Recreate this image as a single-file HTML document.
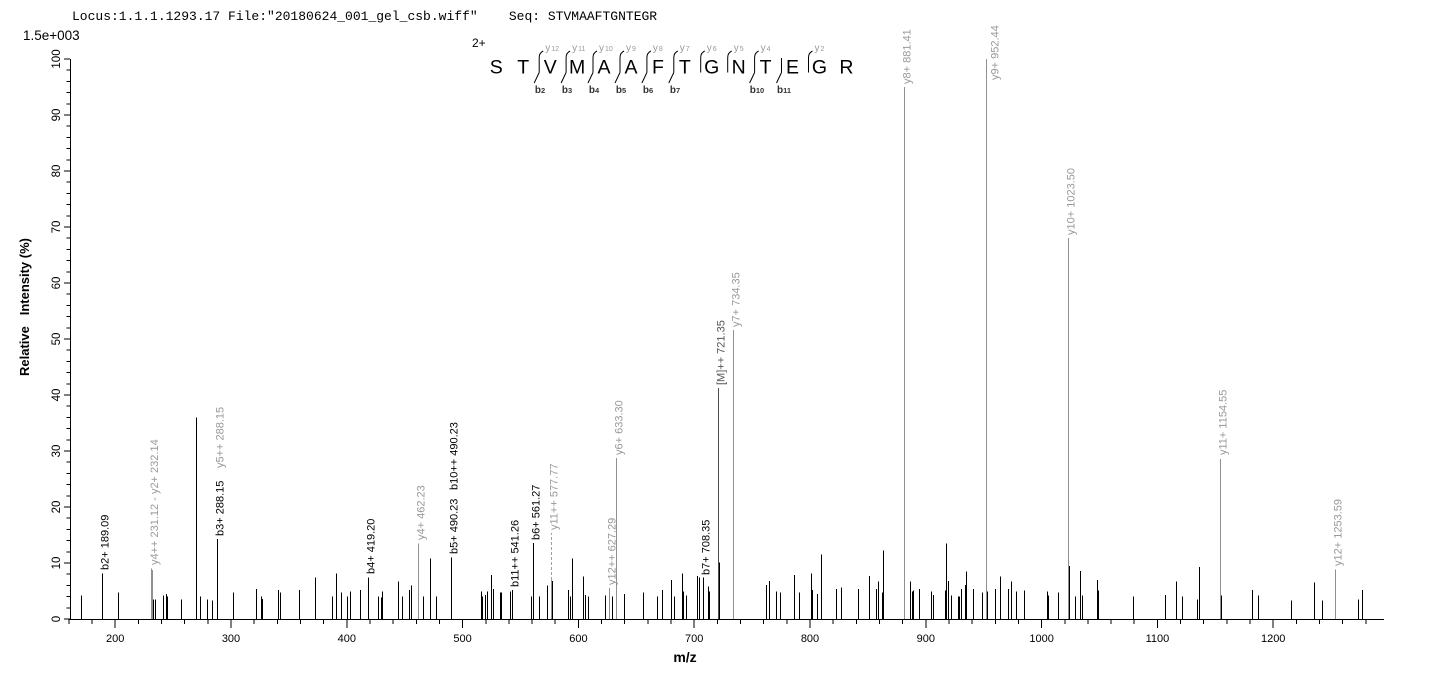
<!DOCTYPE html>
<html><head><meta charset="utf-8"><style>
html,body{margin:0;padding:0;background:#fff;}
svg{display:block;}
text{font-family:"Liberation Sans",Arial,sans-serif;}
</style></head><body>
<svg width="1436" height="679" viewBox="0 0 1436 679" xmlns="http://www.w3.org/2000/svg">
<rect width="1436" height="679" fill="#fff"/>
<!-- header -->
<text x="72" y="20" font-size="13" fill="#000" style="white-space:pre;font-family:'Liberation Mono','DejaVu Sans Mono',monospace">Locus:1.1.1.1293.17 File:"20180624_001_gel_csb.wiff"    Seq: STVMAAFTGNTEGR</text>
<text x="23" y="40" font-size="13.5" fill="#000">1.5e+003</text>

<!-- sequence annotation -->
<text x="472" y="47" font-size="12" fill="#000">2+</text>
<g font-size="19.5" fill="#000" text-anchor="middle">
<text x="496.3" y="73.5">S</text><text x="523.2" y="73.5">T</text><text x="550.2" y="73.5">V</text><text x="577.1" y="73.5">M</text><text x="604.0" y="73.5">A</text><text x="631.0" y="73.5">A</text><text x="657.9" y="73.5">F</text><text x="684.8" y="73.5">T</text><text x="711.7" y="73.5">G</text><text x="738.7" y="73.5">N</text><text x="765.6" y="73.5">T</text><text x="792.5" y="73.5">E</text><text x="819.5" y="73.5">G</text><text x="846.4" y="73.5">R</text>
</g>
<g stroke="#000" stroke-width="1" fill="none">
<path d="M539.2 72.5V57.5Q539.2 53 543.2 51M539.2 72.5L534.2 83"/>
<path d="M566.1 72.5V57.5Q566.1 53 570.1 51M566.1 72.5L561.1 83"/>
<path d="M593 72.5V57.5Q593 53 597 51M593 72.5L588 83"/>
<path d="M620 72.5V57.5Q620 53 624 51M620 72.5L615 83"/>
<path d="M646.9 72.5V57.5Q646.9 53 650.9 51M646.9 72.5L641.9 83"/>
<path d="M673.8 72.5V57.5Q673.8 53 677.8 51M673.8 72.5L668.8 83"/>
<path d="M700.7 72.5V57.5Q700.7 53 704.7 51"/>
<path d="M727.7 72.5V57.5Q727.7 53 731.7 51"/>
<path d="M754.6 72.5V57.5Q754.6 53 758.6 51M754.6 72.5L749.6 83"/>
<path d="M781.5 72.5V58M781.5 72.5L776.5 83"/>
<path d="M808.5 72.5V57.5Q808.5 53 812.5 51"/>
</g>
<g fill="#999" font-size="10">
<text x="545.2" y="51">y<tspan font-size="7" dx="1">12</tspan></text>
<text x="572.1" y="51">y<tspan font-size="7" dx="1">11</tspan></text>
<text x="599" y="51">y<tspan font-size="7" dx="1">10</tspan></text>
<text x="626" y="51">y<tspan font-size="7" dx="1">9</tspan></text>
<text x="652.9" y="51">y<tspan font-size="7" dx="1">8</tspan></text>
<text x="679.8" y="51">y<tspan font-size="7" dx="1">7</tspan></text>
<text x="706.7" y="51">y<tspan font-size="7" dx="1">6</tspan></text>
<text x="733.7" y="51">y<tspan font-size="7" dx="1">5</tspan></text>
<text x="760.6" y="51">y<tspan font-size="7" dx="1">4</tspan></text>
<text x="814.5" y="51">y<tspan font-size="7" dx="1">2</tspan></text>
</g>
<g fill="#333" font-size="10" font-weight="bold" text-anchor="middle">
<text x="540" y="93">b<tspan font-size="7.5">2</tspan></text>
<text x="567" y="93">b<tspan font-size="7.5">3</tspan></text>
<text x="594" y="93">b<tspan font-size="7.5">4</tspan></text>
<text x="621" y="93">b<tspan font-size="7.5">5</tspan></text>
<text x="648" y="93">b<tspan font-size="7.5">6</tspan></text>
<text x="675" y="93">b<tspan font-size="7.5">7</tspan></text>
<text x="757" y="93">b<tspan font-size="7.5">10</tspan></text>
<text x="784" y="93">b<tspan font-size="7.5">11</tspan></text>
</g>

<!-- axes -->
<g stroke="#000" stroke-width="1" shape-rendering="crispEdges">
<path d="M70.5 59V620"/>
<path d="M69 619.5H1384" stroke-width="1.4"/>
<path d="M64 619H70M64 563H70M64 507H70M64 451H70M64 395H70M64 339H70M64 283H70M64 227H70M64 171H70M64 115H70M64 59H70"/>
<path d="M66.5 607.8H70M66.5 596.6H70M66.5 585.4H70M66.5 574.2H70M66.5 551.8H70M66.5 540.6H70M66.5 529.4H70M66.5 518.2H70M66.5 495.8H70M66.5 484.6H70M66.5 473.4H70M66.5 462.2H70M66.5 439.8H70M66.5 428.6H70M66.5 417.4H70M66.5 406.2H70M66.5 383.8H70M66.5 372.6H70M66.5 361.4H70M66.5 350.2H70M66.5 327.8H70M66.5 316.6H70M66.5 305.4H70M66.5 294.2H70M66.5 271.8H70M66.5 260.6H70M66.5 249.4H70M66.5 238.2H70M66.5 215.8H70M66.5 204.6H70M66.5 193.4H70M66.5 182.2H70M66.5 159.8H70M66.5 148.6H70M66.5 137.4H70M66.5 126.2H70M66.5 103.8H70M66.5 92.6H70M66.5 81.4H70M66.5 70.2H70"/>
<path d="M115.2 619V628M231 619V628M346.8 619V628M462.6 619V628M578.4 619V628M694.2 619V628M810 619V628M925.8 619V628M1041.6 619V628M1157.4 619V628M1273.2 619V628"/>
<path d="M69 619V624M92 619V624M138.4 619V624M161.5 619V624M184.7 619V624M207.8 619V624M254.2 619V624M277.3 619V624M300.5 619V624M323.6 619V624M370 619V624M393.1 619V624M416.3 619V624M439.4 619V624M485.8 619V624M508.9 619V624M532.1 619V624M555.2 619V624M601.6 619V624M624.7 619V624M647.9 619V624M671 619V624M717.4 619V624M740.5 619V624M763.7 619V624M786.8 619V624M833.2 619V624M856.3 619V624M879.5 619V624M902.6 619V624M949 619V624M972.1 619V624M995.3 619V624M1018.4 619V624M1064.8 619V624M1087.9 619V624M1111.1 619V624M1134.2 619V624M1180.6 619V624M1203.7 619V624M1226.9 619V624M1250 619V624M1296.4 619V624M1319.5 619V624M1342.7 619V624M1365.8 619V624"/>
</g>
<g font-size="11" fill="#000" text-anchor="middle">
<text x="115.2" y="642">200</text><text x="231" y="642">300</text><text x="346.8" y="642">400</text><text x="462.6" y="642">500</text><text x="578.4" y="642">600</text><text x="694.2" y="642">700</text><text x="810" y="642">800</text><text x="925.8" y="642">900</text><text x="1041.6" y="642">1000</text><text x="1157.4" y="642">1100</text><text x="1273.2" y="642">1200</text>
</g>
<g font-size="11.5" fill="#000" text-anchor="middle">
<text transform="translate(60,619) rotate(-90)">0</text>
<text transform="translate(60,563) rotate(-90)">10</text>
<text transform="translate(60,507) rotate(-90)">20</text>
<text transform="translate(60,451) rotate(-90)">30</text>
<text transform="translate(60,395) rotate(-90)">40</text>
<text transform="translate(60,339) rotate(-90)">50</text>
<text transform="translate(60,283) rotate(-90)">60</text>
<text transform="translate(60,227) rotate(-90)">70</text>
<text transform="translate(60,171) rotate(-90)">80</text>
<text transform="translate(60,115) rotate(-90)">90</text>
<text transform="translate(60,59) rotate(-90)">100</text>
</g>
<text transform="translate(29,307) rotate(-90)" font-size="13" font-weight="bold" text-anchor="middle" fill="#000" style="white-space:pre">Relative   Intensity (%)</text>
<text x="685" y="662" font-size="14" font-weight="bold" text-anchor="middle" fill="#000">m/z</text>

<!-- black peaks -->
<path stroke="#000" stroke-width="1" fill="none" shape-rendering="crispEdges" d="
M81.5 619V595.5M102.5 619V573.6M118.5 619V592.7M153.5 619V599.4M155.5 619V599.4M163.5 619V595.5M166.5 619V593.8M167.5 619V596.6M181.5 619V599.4M196.5 619V417.4M200.5 619V596.6M207.5 619V599.4M212.5 619V600.5M217.5 619V538.9M233.5 619V592.7M256.5 619V588.8M261.5 619V596.6M262.5 619V598.8M278.5 619V589.9M280.5 619V592.7M299.5 619V589.9M315.5 619V577.6M332.5 619V596.6M336.5 619V573.6M341.5 619V592.7M347.5 619V596.6M350.5 619V591.6M360.5 619V589.9M368.5 619V577.6M378.5 619V596.6M381.5 619V597.7M382.5 619V591.6M398.5 619V581.5M402.5 619V596.6M409.5 619V589.9M411.5 619V585.4M423.5 619V596.6M430.5 619V558.5M436.5 619V596.6M451.5 619V557.4M481.5 619V591.6M482.5 619V596.6M485.5 619V594.9M487.5 619V591.6M491.5 619V574.8M493.5 619V588.8M500.5 619V592.7M501.5 619V592.7M510.5 619V591.6M512.5 619V589.9M531.5 619V596.6M533.5 619V542.8M539.5 619V596.6M547.5 619V585.4M552.5 619V580.9M568.5 619V589.9M570.5 619V596.6M572.5 619V558.5M583.5 619V576.4M585.5 619V594.9M588.5 619V596.6M605.5 619V595.5M612.5 619V596.6M624.5 619V593.8M643.5 619V592.7M657.5 619V596.6M662.5 619V589.9M671.5 619V579.8M674.5 619V596.6M682.5 619V573.6M683.5 619V591.6M686.5 619V595.5M697.5 619V575.9M699.5 619V577.6M703.5 619V577.6M708.5 619V586.5M709.5 619V591.6M719.5 619V562.4M766.5 619V584.8M769.5 619V580.9M776.5 619V591.6M780.5 619V592.7M794.5 619V574.8M799.5 619V592.7M811.5 619V573.6M812.5 619V589.9M817.5 619V593.8M821.5 619V554.6M836.5 619V588.8M841.5 619V587.6M858.5 619V588.8M869.5 619V575.9M876.5 619V588.8M878.5 619V581.5M882.5 619V592.7M883.5 619V550.7M910.5 619V581.5M912.5 619V591.6M913.5 619V590.4M919.5 619V588.8M931.5 619V591.6M933.5 619V594.9M945.5 619V590.4M946.5 619V543.4M948.5 619V580.9M951.5 619V595.5M958.5 619V596.6M959.5 619V596.6M961.5 619V588.8M965.5 619V584.8M966.5 619V571.4M973.5 619V588.8M982.5 619V592.7M987.5 619V591.6M995.5 619V588.8M1000.5 619V576.4M1008.5 619V588.8M1011.5 619V581.5M1016.5 619V591.6M1024.5 619V590.4M1047.5 619V591.6M1048.5 619V595.5M1058.5 619V592.7M1069.5 619V565.8M1075.5 619V596.6M1080.5 619V570.8M1082.5 619V595.5M1097.5 619V579.8M1098.5 619V590.4M1133.5 619V596.6M1165.5 619V594.9M1176.5 619V581.5M1182.5 619V596.6M1197.5 619V599.4M1199.5 619V566.9M1221.5 619V595.5M1252.5 619V589.9M1258.5 619V595.5M1291.5 619V600.5M1314.5 619V582.6M1322.5 619V600.5M1358.5 619V599.4M1362.5 619V589.9"/>

<!-- annotated gray peaks -->
<path stroke="#909090" stroke-width="1" fill="none" shape-rendering="crispEdges" d="M151.5 619V568.6M152.5 619V570M418.5 619V543.4M551.5 619V580M609.5 619V588.2M616.5 619V458M733.5 619V330M904.5 619V87M986.5 619V59M1068.5 619V238.2M1220.5 619V458.8M1335.5 619V569.7"/>
<path stroke="#a0a0a0" stroke-width="1" stroke-dasharray="3,2" fill="none" d="M551.5 580V533"/>
<path stroke="#505050" stroke-width="1" fill="none" shape-rendering="crispEdges" d="M718.5 619V388"/>

<!-- peak labels -->
<g font-size="11" fill="#000">
<text transform="translate(108.5,570) rotate(-90)">b2+ 189.09</text>
<text transform="translate(223.5,536) rotate(-90)">b3+ 288.15</text>
<text transform="translate(374.5,574) rotate(-90)">b4+ 419.20</text>
<text transform="translate(457.5,554) rotate(-90)">b5+ 490.23</text>
<text transform="translate(457.5,490) rotate(-90)">b10++ 490.23</text>
<text transform="translate(518.5,587) rotate(-90)">b11++ 541.26</text>
<text transform="translate(539.5,540) rotate(-90)">b6+ 561.27</text>
<text transform="translate(709.5,575) rotate(-90)">b7+ 708.35</text>
</g>
<text transform="translate(724.5,385) rotate(-90)" font-size="11" fill="#555">[M]++ 721.35</text>
<g font-size="11" fill="#999">
<text transform="translate(158,565) rotate(-90)">y4++ 231.12 - y2+ 232.14</text>
<text transform="translate(223.5,468) rotate(-90)">y5++ 288.15</text>
<text transform="translate(424.5,540) rotate(-90)">y4+ 462.23</text>
<text transform="translate(557.5,530) rotate(-90)">y11++ 577.77</text>
<text transform="translate(615.5,585) rotate(-90)">y12++ 627.29</text>
<text transform="translate(622.5,455) rotate(-90)">y6+ 633.30</text>
<text transform="translate(739.5,327) rotate(-90)">y7+ 734.35</text>
<text transform="translate(910.5,84) rotate(-90)">y8+ 881.41</text>
<text transform="translate(998.5,80) rotate(-90)">y9+ 952.44</text>
<text transform="translate(1074.5,235) rotate(-90)">y10+ 1023.50</text>
<text transform="translate(1226.5,455) rotate(-90)">y11+ 1154.55</text>
<text transform="translate(1341.5,566) rotate(-90)">y12+ 1253.59</text>
</g>
</svg>
</body></html>
